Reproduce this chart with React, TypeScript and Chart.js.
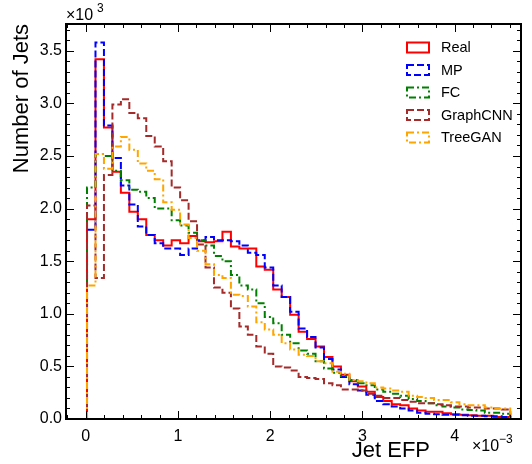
import React, { useEffect, useRef, useState } from "react";
import { Chart, registerables } from "chart.js";

Chart.register(...registerables);

// x in units of 1e-3, y in units of 1e3
const binStart = 0.013;
const binWidth = 0.0918;

const seriesLabels = ["Real", "MP", "FC", "GraphCNN", "TreeGAN"];
const seriesColors = ["#ff0000", "#0000ff", "#008000", "#a52a2a", "#ffa500"];
const seriesDashes: number[][] = [[], [7, 3], [7, 3, 2, 3], [7, 3], [7, 3, 2, 3]];

const real = [1.90, 3.42, 2.77, 2.35, 2.15, 1.97, 1.90, 1.75, 1.70, 1.65, 1.70, 1.67, 1.74, 1.69, 1.68, 1.69, 1.78, 1.64, 1.62, 1.62, 1.45, 1.42, 1.23, 1.16, 0.99, 0.83, 0.76, 0.69, 0.59, 0.50, 0.42, 0.36, 0.31, 0.26, 0.21, 0.17, 0.14, 0.13, 0.10, 0.08, 0.07, 0.07, 0.055, 0.045, 0.04, 0.035, 0.03, 0.03, 0.02, 0.02];
const mp = [1.80, 3.58, 2.79, 2.48, 2.22, 2.04, 1.83, 1.75, 1.67, 1.62, 1.62, 1.56, 1.62, 1.70, 1.73, 1.70, 1.70, 1.69, 1.65, 1.58, 1.56, 1.44, 1.27, 1.16, 1.02, 0.86, 0.78, 0.68, 0.57, 0.47, 0.40, 0.33, 0.27, 0.23, 0.17, 0.14, 0.12, 0.10, 0.08, 0.06, 0.05, 0.045, 0.04, 0.04, 0.035, 0.03, 0.03, 0.025, 0.025, 0.02];
const fc = [2.20, 2.52, 2.50, 2.36, 2.27, 2.18, 2.16, 2.10, 2.00, 2.00, 1.89, 1.84, 1.77, 1.70, 1.65, 1.55, 1.50, 1.37, 1.27, 1.23, 1.10, 0.97, 0.91, 0.80, 0.72, 0.65, 0.62, 0.55, 0.48, 0.44, 0.41, 0.37, 0.34, 0.32, 0.28, 0.26, 0.24, 0.22, 0.19, 0.17, 0.15, 0.13, 0.12, 0.11, 0.09, 0.085, 0.08, 0.06, 0.06, 0.05];
const graphCNN = [2.03, 1.34, 2.32, 2.99, 3.04, 2.91, 2.86, 2.69, 2.59, 2.45, 2.20, 2.08, 1.88, 1.66, 1.44, 1.25, 1.20, 1.05, 0.88, 0.80, 0.69, 0.62, 0.50, 0.49, 0.46, 0.40, 0.39, 0.38, 0.34, 0.32, 0.28, 0.28, 0.27, 0.24, 0.22, 0.20, 0.20, 0.18, 0.165, 0.15, 0.15, 0.14, 0.13, 0.12, 0.12, 0.11, 0.11, 0.10, 0.10, 0.09];
const treeGAN = [1.27, 2.52, 2.38, 2.59, 2.68, 2.56, 2.43, 2.36, 2.28, 2.06, 1.99, 1.85, 1.72, 1.60, 1.47, 1.37, 1.34, 1.18, 1.17, 1.07, 0.92, 0.85, 0.80, 0.72, 0.66, 0.61, 0.60, 0.55, 0.53, 0.45, 0.43, 0.37, 0.36, 0.34, 0.30, 0.29, 0.27, 0.26, 0.22, 0.21, 0.20, 0.18, 0.18, 0.16, 0.14, 0.13, 0.13, 0.11, 0.10, 0.10];

const seriesValues = [real, mp, fc, graphCNN, treeGAN];

const xTicks = [0, 1, 2, 3, 4];
const yTicks = [0, 0.5, 1.0, 1.5, 2.0, 2.5, 3.0, 3.5];
const xMinorTicks = [-0.2, 0.2, 0.4, 0.6, 0.8, 1.2, 1.4, 1.6, 1.8, 2.2, 2.4, 2.6, 2.8, 3.2, 3.4, 3.6, 3.8, 4.2, 4.4, 4.6];
const yMinorTicks = [0.1, 0.2, 0.3, 0.4, 0.6, 0.7, 0.8, 0.9, 1.1, 1.2, 1.3, 1.4, 1.6, 1.7, 1.8, 1.9, 2.1, 2.2, 2.3, 2.4, 2.6, 2.7, 2.8, 2.9, 3.1, 3.2, 3.3, 3.4, 3.6, 3.7];
const X_MIN = -0.215;
const X_MAX = 4.72;
const Y_MIN = 0;
const Y_MAX = 3.755;

const FONT = "'Liberation Sans', Arial, Helvetica, sans-serif";

function histPoints(values: number[]) {
  const pts: { x: number; y: number }[] = [{ x: binStart, y: 0 }];
  values.forEach((v, i) => {
    const x0 = binStart + i * binWidth;
    pts.push({ x: x0, y: v }, { x: x0 + binWidth, y: v });
  });
  pts.push({ x: binStart + values.length * binWidth, y: 0 });
  return pts;
}

type Geo = {
  l: number; r: number; t: number; b: number;
  xt: { p: number; len: number }[];
  yt: { p: number; len: number }[];
};

const decorPlugin = {
  id: "decor",
  afterDraw(chart: any) {
    const ctx = chart.ctx;
    const a = chart.chartArea;
    ctx.save();
    ctx.fillStyle = "#000";
    ctx.font = `14.5px ${FONT}`;
    ctx.textBaseline = "middle";
    ctx.textAlign = "left";
    seriesLabels.forEach((lab, i) => {
      const cy = 47.5 + i * 22.5;
      ctx.save();
      ctx.strokeStyle = seriesColors[i];
      ctx.lineWidth = 2;
      ctx.setLineDash(seriesDashes[i]);
      ctx.strokeRect(407, cy - 5, 22, 10);
      ctx.restore();
      ctx.fillStyle = "#000";
      ctx.fillText(lab, 441, cy + 0.5);
    });
    ctx.font = `22px ${FONT}`;
    ctx.textAlign = "right";
    ctx.textBaseline = "middle";
    ctx.fillText("Jet EFP", 430, 451);
    ctx.save();
    ctx.translate(22, a.top);
    ctx.rotate(-Math.PI / 2);
    ctx.textAlign = "right";
    ctx.fillText("Number of Jets", 0, 0);
    ctx.restore();
    ctx.textAlign = "left";
    ctx.textBaseline = "alphabetic";
    ctx.font = `16px ${FONT}`;
    ctx.fillText("\u00d710", 66, 20);
    ctx.font = `12px ${FONT}`;
    ctx.fillText("3", 97, 12);
    ctx.font = `16px ${FONT}`;
    ctx.fillText("\u00d710", 472, 451);
    ctx.font = `12px ${FONT}`;
    ctx.fillText("\u22123", 499, 443);
    ctx.restore();
  },
};

export default function App() {
  const ref = useRef<HTMLCanvasElement>(null);
  const [geo, setGeo] = useState<Geo | null>(null);
  useEffect(() => {
    if (!ref.current) return;
    Chart.defaults.font.family = FONT;
    Chart.defaults.color = "#000";
    const order = [4, 3, 2, 1, 0];
    const chart: any = new Chart(ref.current, {
      type: "line",
      data: {
        datasets: order.map((i) => ({
          label: seriesLabels[i],
          data: histPoints(seriesValues[i]),
          borderColor: seriesColors[i],
          borderDash: seriesDashes[i],
          borderWidth: 2,
          pointRadius: 0,
          fill: false,
          tension: 0,
        })),
      },
      options: {
        animation: false,
        responsive: false,
        events: [],
        layout: { padding: { left: 0, right: 11, top: 24, bottom: 0 } },
        plugins: { legend: { display: false }, tooltip: { enabled: false } },
        scales: {
          x: {
            type: "linear",
            min: X_MIN,
            max: X_MAX,
            grid: { display: false, drawTicks: false, tickLength: 0 },
            border: { display: false },
            ticks: {
              font: { size: 16 },
              color: "#000",
              padding: 8,
              maxRotation: 0,
              autoSkip: false,
              callback: (v: any) => String(v),
            },
            afterBuildTicks: (s: any) => {
              s.ticks = xTicks.map((v) => ({ value: v }));
            },
            afterFit: (s: any) => {
              s.height = 45;
            },
          },
          y: {
            type: "linear",
            min: Y_MIN,
            max: Y_MAX,
            grid: { display: false, drawTicks: false, tickLength: 0 },
            border: { display: false },
            ticks: {
              font: { size: 16 },
              color: "#000",
              padding: 4,
              autoSkip: false,
              callback: (v: any) => Number(v).toFixed(1),
            },
            afterBuildTicks: (s: any) => {
              s.ticks = yTicks.map((v) => ({ value: v }));
            },
            afterFit: (s: any) => {
              s.width = 66;
            },
          },
        },
      },
      plugins: [decorPlugin],
    } as any);
    const a = chart.chartArea;
    const xs = chart.scales.x;
    const ys = chart.scales.y;
    setGeo({
      l: a.left,
      r: a.right,
      t: a.top,
      b: a.bottom,
      xt: xTicks.map((v) => ({ p: xs.getPixelForValue(v), len: 8 })).concat(
        xMinorTicks.map((v) => ({ p: xs.getPixelForValue(v), len: 4 }))
      ),
      yt: yTicks.map((v) => ({ p: ys.getPixelForValue(v), len: 8 })).concat(
        yMinorTicks.map((v) => ({ p: ys.getPixelForValue(v), len: 4 }))
      ),
    });
    return () => chart.destroy();
  }, []);

  const marks: React.ReactNode[] = [];
  if (geo) {
    const { l, r, t, b } = geo;
    const line = (key: string, left: number, top: number, w: number, h: number) =>
      marks.push(
        <div key={key} style={{ position: "absolute", left, top, width: w, height: h, background: "#000" }} />
      );
    geo.xt.forEach((k, i) => {
      if (k.p < l || k.p > r) return;
      line(`xb${i}`, Math.round(k.p), b - k.len, 1, k.len);
      line(`xt${i}`, Math.round(k.p), t, 1, k.len);
    });
    geo.yt.forEach((k, i) => {
      if (k.p < t || k.p > b) return;
      line(`yl${i}`, l, Math.round(k.p), k.len, 1);
      line(`yr${i}`, r - k.len, Math.round(k.p), k.len, 1);
    });
    line("ft", Math.round(l) - 1, Math.round(t) - 1, Math.round(r - l) + 2, 2);
    line("fb", Math.round(l) - 1, Math.round(b) - 1, Math.round(r - l) + 2, 2);
    line("fl", Math.round(l) - 1, Math.round(t) - 1, 2, Math.round(b - t) + 2);
    line("fr", Math.round(r) - 1, Math.round(t) - 1, 2, Math.round(b - t) + 2);
  }

  return (
    <div style={{ position: "absolute", left: 0, top: 0, width: 532, height: 464, background: "#fff" }}>
      <canvas ref={ref} width={532} height={464} style={{ position: "absolute", left: 0, top: 0 }} />
      {marks}
    </div>
  );
}
